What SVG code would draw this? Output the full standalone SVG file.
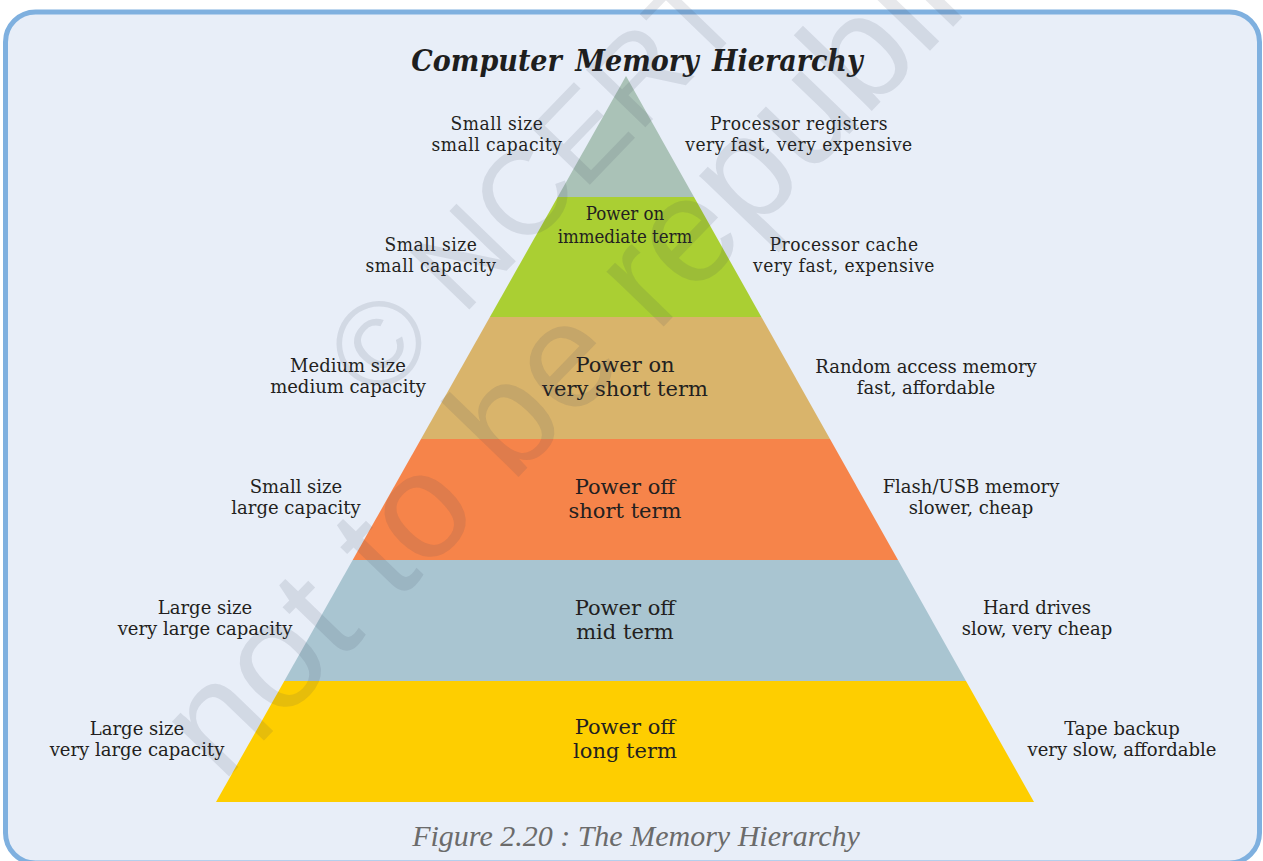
<svg xmlns="http://www.w3.org/2000/svg" width="1263" height="861" viewBox="0 0 1263 861">
<style>
.lbl{font-family:"DejaVu Serif","Liberation Serif",serif;font-size:18px;fill:#231f20;text-anchor:middle}
.lblc{font-family:"DejaVu Serif","Liberation Serif",serif;font-stretch:condensed;font-size:19px;letter-spacing:0.5px;fill:#231f20;text-anchor:middle}
.band{font-family:"DejaVu Serif","Liberation Serif",serif;font-size:21px;fill:#231f20;text-anchor:middle}
.bandc{font-family:"DejaVu Serif","Liberation Serif",serif;font-stretch:condensed;font-size:18.5px;fill:#231f20;text-anchor:middle}
.wm{font-family:"Liberation Sans",Arial,sans-serif;fill:#3c4458;fill-opacity:0.12}
</style>
<rect x="0" y="0" width="1263" height="861" fill="#ffffff"/>
<rect x="5.5" y="12" width="1254" height="851" rx="30" ry="30" fill="#e8eef8" stroke="#7fb0df" stroke-width="5"/>
<text x="637" y="71" style="font-family:'DejaVu Serif','Liberation Serif',serif;font-weight:bold;font-style:italic;font-stretch:condensed;font-size:30px;fill:#1e1e1e;word-spacing:4px" text-anchor="middle">Computer Memory Hierarchy</text>
<g id="pyramid">
<g id="level1"><polygon points="626,76 694,197 557.7,197" fill="#aac2b7"/></g>
<g id="level2"><polygon points="557.7,197 694,197 761.4,317 489.9,317" fill="#aacf33"/>
<text class="bandc" x="625" y="220">Power on</text><text class="bandc" x="625" y="243">immediate term</text></g>
<g id="level3"><polygon points="489.9,317 761.4,317 830,439 421,439" fill="#d9b46b"/>
<text class="band" x="625" y="372">Power on</text><text class="band" x="625" y="396">very short term</text></g>
<g id="level4"><polygon points="421,439 830,439 898,560 352.7,560" fill="#f6844a"/>
<text class="band" x="625" y="494">Power off</text><text class="band" x="625" y="518">short term</text></g>
<g id="level5"><polygon points="352.7,560 898,560 966,681 284.3,681" fill="#a9c5d1"/>
<text class="band" x="625" y="615">Power off</text><text class="band" x="625" y="639">mid term</text></g>
<g id="level6"><polygon points="284.3,681 966,681 1034,802 216,802" fill="#fece00"/>
<text class="band" x="625" y="734">Power off</text><text class="band" x="625" y="758">long term</text></g>
</g>
<g id="labels-left">
<text class="lblc" x="497" y="130">Small size</text><text class="lblc" x="497" y="151">small capacity</text>
<text class="lblc" x="431" y="251">Small size</text><text class="lblc" x="431" y="272">small capacity</text>
<text class="lbl" x="348" y="372">Medium size</text><text class="lbl" x="348" y="393">medium capacity</text>
<text class="lbl" x="296" y="493">Small size</text><text class="lbl" x="296" y="514">large capacity</text>
<text class="lbl" x="205" y="614">Large size</text><text class="lbl" x="205" y="635">very large capacity</text>
<text class="lbl" x="137" y="735">Large size</text><text class="lbl" x="137" y="756">very large capacity</text>
</g>
<g id="labels-right">
<text class="lblc" x="799" y="130">Processor registers</text><text class="lblc" x="799" y="151">very fast, very expensive</text>
<text class="lblc" x="844" y="251">Processor cache</text><text class="lblc" x="844" y="272">very fast, expensive</text>
<text class="lbl" x="926" y="373">Random access memory</text><text class="lbl" x="926" y="394">fast, affordable</text>
<text class="lbl" x="971" y="493">Flash/USB memory</text><text class="lbl" x="971" y="514">slower, cheap</text>
<text class="lbl" x="1037" y="614">Hard drives</text><text class="lbl" x="1037" y="635">slow, very cheap</text>
<text class="lbl" x="1122" y="735">Tape backup</text><text class="lbl" x="1122" y="756">very slow, affordable</text>
</g>
<g id="watermark">
<text class="wm" transform="translate(378,404) rotate(-46)" font-size="120">© NCERT</text>
<text class="wm" transform="translate(222,784) rotate(-46)" font-size="150">not to be republished</text>
</g>
<text x="636" y="846" style="font-family:'Liberation Serif',serif;font-style:italic;font-size:30px;fill:#6b6b6b" text-anchor="middle">Figure 2.20 : The Memory Hierarchy</text>
</svg>
